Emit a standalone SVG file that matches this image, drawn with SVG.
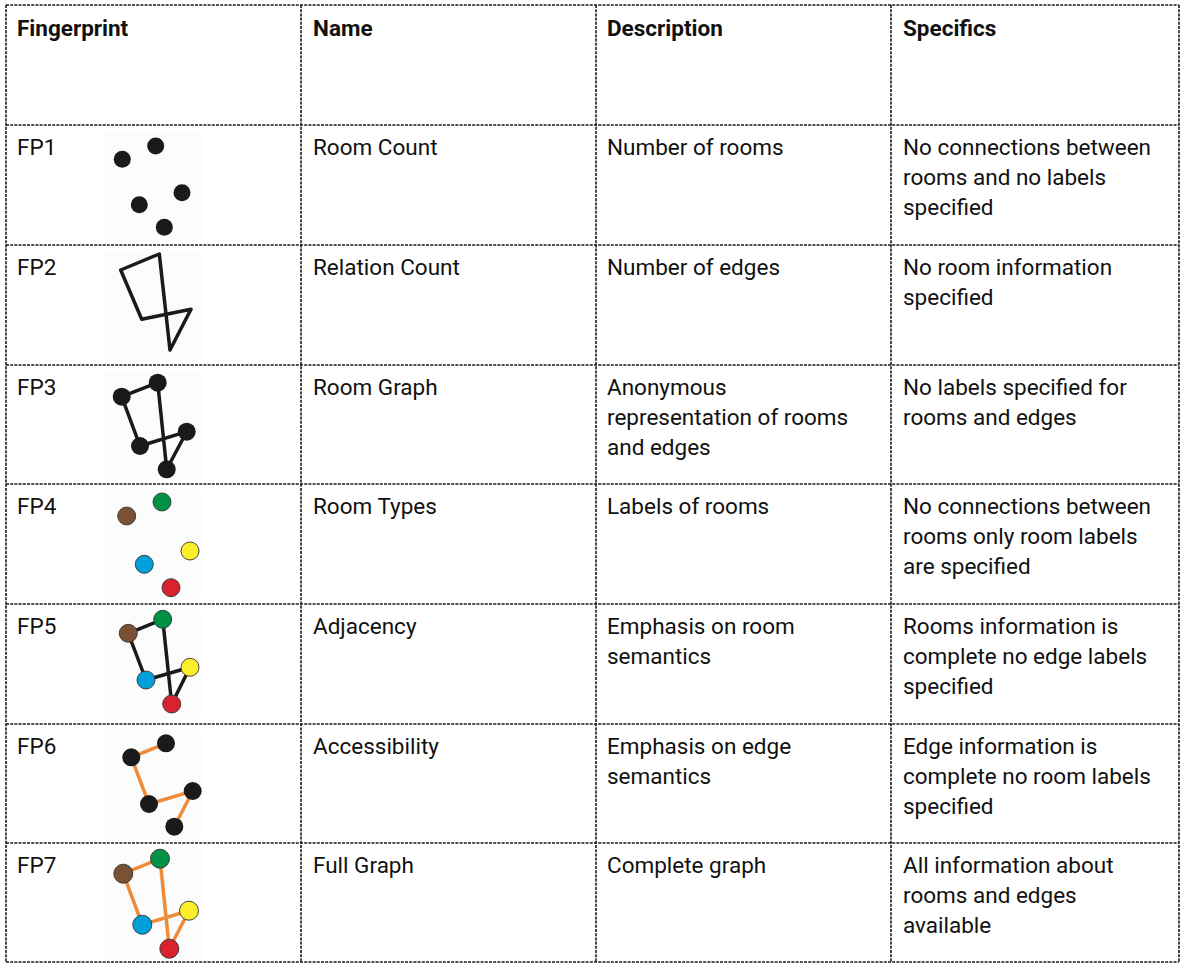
<svg xmlns="http://www.w3.org/2000/svg" width="1183" height="963" viewBox="0 0 1183 963">
  <style>
    .grid { stroke: #1a1a1a; stroke-width: 1.6; stroke-dasharray: 3 1.2; fill: none; }
    text { font-family: Roboto, "Liberation Sans", sans-serif; font-size: 22.5px; fill: #111; }
    .hd { font-weight: bold; }
    .bg { fill: #fcfcfc; }
    .dot { fill: #1a1a1a; }
    .k { stroke: #1a1a1a; stroke-width: 3.5; fill: none; stroke-linecap: round; stroke-linejoin: round; }
    .o { stroke: #ee8c3a; stroke-width: 3.5; fill: none; stroke-linecap: round; }
    .c { stroke: #333; stroke-width: 0.9; }
    .gr { fill: #009245; }
    .br { fill: #7a5233; }
    .ye { fill: #fcee2a; }
    .bl { fill: #00a0db; }
    .rd { fill: #d8232f; }
  </style>
  <rect width="1183" height="963" fill="#ffffff"/>

  <!-- table grid -->
  <g id="grid">
    <path class="grid" d="M6 5 H1179 M6 125 H1179 M6 245 H1179 M6 365 H1179 M6 484 H1179 M6 604 H1179 M6 724 H1179 M6 843 H1179 M6 962 H1179"/>
    <path class="grid" d="M6 5 V962 M301 5 V962 M596 5 V962 M891 5 V962 M1179 5 V962"/>
  </g>

  <!-- header row -->
  <g id="header">
    <text class="hd" x="17" y="36">Fingerprint</text>
    <text class="hd" x="313" y="36">Name</text>
    <text class="hd" x="607" y="36">Description</text>
    <text class="hd" x="903" y="36">Specifics</text>
  </g>

  <!-- FP1: room count -->
  <g id="fp1">
    <text x="17" y="155">FP1</text>
    <rect class="bg" x="104" y="130" width="98" height="110"/>
    <circle class="dot" cx="122.3" cy="159.3" r="8.5"/>
    <circle class="dot" cx="155.7" cy="146" r="8.5"/>
    <circle class="dot" cx="182" cy="192.7" r="8.5"/>
    <circle class="dot" cx="139.3" cy="204.7" r="8.5"/>
    <circle class="dot" cx="164.3" cy="227.3" r="8.5"/>
    <text x="313" y="155">Room Count</text>
    <text x="607" y="155">Number of rooms</text>
    <text x="903" y="155">No connections between</text>
    <text x="903" y="185">rooms and no labels</text>
    <text x="903" y="215">specified</text>
  </g>

  <!-- FP2: relation count -->
  <g id="fp2">
    <text x="17" y="275">FP2</text>
    <rect class="bg" x="104" y="250" width="98" height="110"/>
    <path class="k" d="M120.7 270 L159.3 254 L170 350 L191 309.3 L141.7 319.3 Z"/>
    <text x="313" y="275">Relation Count</text>
    <text x="607" y="275">Number of edges</text>
    <text x="903" y="275">No room information</text>
    <text x="903" y="305">specified</text>
  </g>

  <!-- FP3: room graph -->
  <g id="fp3">
    <text x="17" y="395">FP3</text>
    <rect class="bg" x="104" y="370" width="98" height="110"/>
    <path class="k" d="M121.7 396.7 L157.7 382.7 L166.7 469.3 L186.7 431.7 L140 446 Z"/>
    <circle class="dot" cx="121.7" cy="396.7" r="9"/>
    <circle class="dot" cx="157.7" cy="382.7" r="9"/>
    <circle class="dot" cx="186.7" cy="431.7" r="9"/>
    <circle class="dot" cx="140" cy="446" r="9"/>
    <circle class="dot" cx="166.7" cy="469.3" r="9"/>
    <text x="313" y="395">Room Graph</text>
    <text x="607" y="395">Anonymous</text>
    <text x="607" y="425">representation of rooms</text>
    <text x="607" y="455">and edges</text>
    <text x="903" y="395">No labels specified for</text>
    <text x="903" y="425">rooms and edges</text>
  </g>

  <!-- FP4: room types -->
  <g id="fp4">
    <text x="17" y="514">FP4</text>
    <rect class="bg" x="104" y="489" width="98" height="110"/>
    <circle class="c gr" cx="162" cy="502" r="9"/>
    <circle class="c br" cx="126.7" cy="516" r="9"/>
    <circle class="c ye" cx="190" cy="551" r="9"/>
    <circle class="c bl" cx="144.3" cy="564.3" r="9"/>
    <circle class="c rd" cx="171" cy="587.7" r="9"/>
    <text x="313" y="514">Room Types</text>
    <text x="607" y="514">Labels of rooms</text>
    <text x="903" y="514">No connections between</text>
    <text x="903" y="544">rooms only room labels</text>
    <text x="903" y="574">are specified</text>
  </g>

  <!-- FP5: adjacency -->
  <g id="fp5">
    <text x="17" y="634">FP5</text>
    <rect class="bg" x="104" y="609" width="98" height="110"/>
    <path class="k" d="M128.3 633.3 L162.7 619.3 L171.7 704 L190 667.3 L146 680 Z"/>
    <circle class="c gr" cx="162.7" cy="619.3" r="9"/>
    <circle class="c br" cx="128.3" cy="633.3" r="9"/>
    <circle class="c ye" cx="190" cy="667.3" r="9"/>
    <circle class="c bl" cx="146" cy="680" r="9"/>
    <circle class="c rd" cx="171.7" cy="704" r="9"/>
    <text x="313" y="634">Adjacency</text>
    <text x="607" y="634">Emphasis on room</text>
    <text x="607" y="664">semantics</text>
    <text x="903" y="634">Rooms information is</text>
    <text x="903" y="664">complete no edge labels</text>
    <text x="903" y="694">specified</text>
  </g>

  <!-- FP6: accessibility -->
  <g id="fp6">
    <text x="17" y="754">FP6</text>
    <rect class="bg" x="104" y="729" width="98" height="110"/>
    <path class="o" d="M166 743.3 L131.3 757.3 L149 804 L192.7 791 L174.3 826.7"/>
    <circle class="dot" cx="166" cy="743.3" r="9"/>
    <circle class="dot" cx="131.3" cy="757.3" r="9"/>
    <circle class="dot" cx="192.7" cy="791" r="9"/>
    <circle class="dot" cx="149" cy="804" r="9"/>
    <circle class="dot" cx="174.3" cy="826.7" r="9"/>
    <text x="313" y="754">Accessibility</text>
    <text x="607" y="754">Emphasis on edge</text>
    <text x="607" y="784">semantics</text>
    <text x="903" y="754">Edge information is</text>
    <text x="903" y="784">complete no room labels</text>
    <text x="903" y="814">specified</text>
  </g>

  <!-- FP7: full graph -->
  <g id="fp7">
    <text x="17" y="873">FP7</text>
    <rect class="bg" x="104" y="848" width="98" height="112"/>
    <path class="o" d="M123.3 873.7 L160 858.7 L169.3 948.7 L189 910.7 L142.3 924.7 Z"/>
    <circle class="c gr" cx="160" cy="858.7" r="9.5"/>
    <circle class="c br" cx="123.3" cy="873.7" r="9.5"/>
    <circle class="c ye" cx="189" cy="910.7" r="9.5"/>
    <circle class="c bl" cx="142.3" cy="924.7" r="9.5"/>
    <circle class="c rd" cx="169.3" cy="948.7" r="9.5"/>
    <text x="313" y="873">Full Graph</text>
    <text x="607" y="873">Complete graph</text>
    <text x="903" y="873">All information about</text>
    <text x="903" y="903">rooms and edges</text>
    <text x="903" y="933">available</text>
  </g>
</svg>
